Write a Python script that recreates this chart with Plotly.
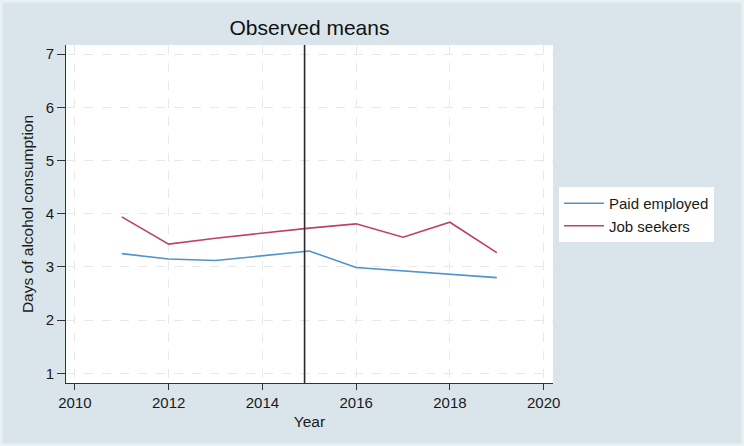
import plotly.graph_objects as go

# Survey years and mean days of alcohol consumption per group
years = [2011, 2012, 2013, 2014, 2015, 2016, 2017, 2018, 2019]
paid_employed = [3.25, 3.15, 3.12, 3.21, 3.30, 2.99, 2.93, 2.87, 2.80]
job_seekers = [3.94, 3.43, 3.54, 3.64, 3.73, 3.81, 3.56, 3.84, 3.27]

x_ticks = [2010, 2012, 2014, 2016, 2018, 2020]
y_ticks = [1, 2, 3, 4, 5, 6, 7]
reform_year = 2014.9

FONT = "Liberation Sans, Arial, sans-serif"
W, H = 744, 446
ML, MR, MT, MB = 66, 191, 45, 63
PW, PH = W - ML - MR, H - MT - MB

fig = go.Figure()
fig.add_trace(go.Scatter(x=years, y=paid_employed, mode="lines", name="Paid employed",
                         line=dict(color="#4f93cf", width=1.6)))
fig.add_trace(go.Scatter(x=years, y=job_seekers, mode="lines", name="Job seekers",
                         line=dict(color="#bf3f6e", width=1.6)))

# Thin light frame round the figure
fig.add_shape(type="rect", xref="paper", yref="paper",
              x0=-ML / PW, x1=1 + MR / PW, y0=-MB / PH, y1=1 + MT / PH,
              line=dict(color="#e9f2f3", width=5), fillcolor="rgba(0,0,0,0)", layer="above")
# Vertical reference line
fig.add_shape(type="line", xref="x", yref="paper", x0=reform_year, x1=reform_year, y0=0, y1=1,
              line=dict(color="#2b2b2b", width=1.6))

fig.update_layout(
    width=W, height=H,
    margin=dict(l=ML, r=MR, t=MT, b=MB),
    paper_bgcolor="#d9e5eb",
    plot_bgcolor="white",
    font=dict(family=FONT, color="#1a1a1a", size=15),
    title=dict(text="Observed means", x=(ML + PW / 2) / W, xanchor="center",
               y=1 - 28 / H, yanchor="middle", font=dict(size=21, family=FONT, color="#111")),
    showlegend=True,
    legend=dict(x=1.0 + 6 / PW, xanchor="left", y=0.4985, yanchor="middle",
                bgcolor="white", borderwidth=0, font=dict(size=15, family=FONT),
                tracegroupgap=0, itemwidth=40, traceorder="normal"),
    xaxis=dict(range=[2009.81, 2020.2], tickvals=x_ticks, ticks="outside", ticklen=6,
               tickcolor="#333", showline=True, linecolor="#333", linewidth=1,
               showgrid=True, gridcolor="#e8e8e8", griddash="dash", gridwidth=1,
               zeroline=False, title=dict(text="Year", standoff=6, font=dict(size=15.5)),
               tickfont=dict(size=15)),
    yaxis=dict(range=[0.82, 7.17], tickvals=y_ticks, ticks="outside", ticklen=8,
               tickcolor="#333", showline=True, linecolor="#333", linewidth=1,
               showgrid=True, gridcolor="#e8e8e8", griddash="dash", gridwidth=1,
               zeroline=False, title=dict(text="Days of alcohol consumption", standoff=8,
                                          font=dict(size=15.5)),
               tickfont=dict(size=15)),
)

fig.write_html("out.html")
